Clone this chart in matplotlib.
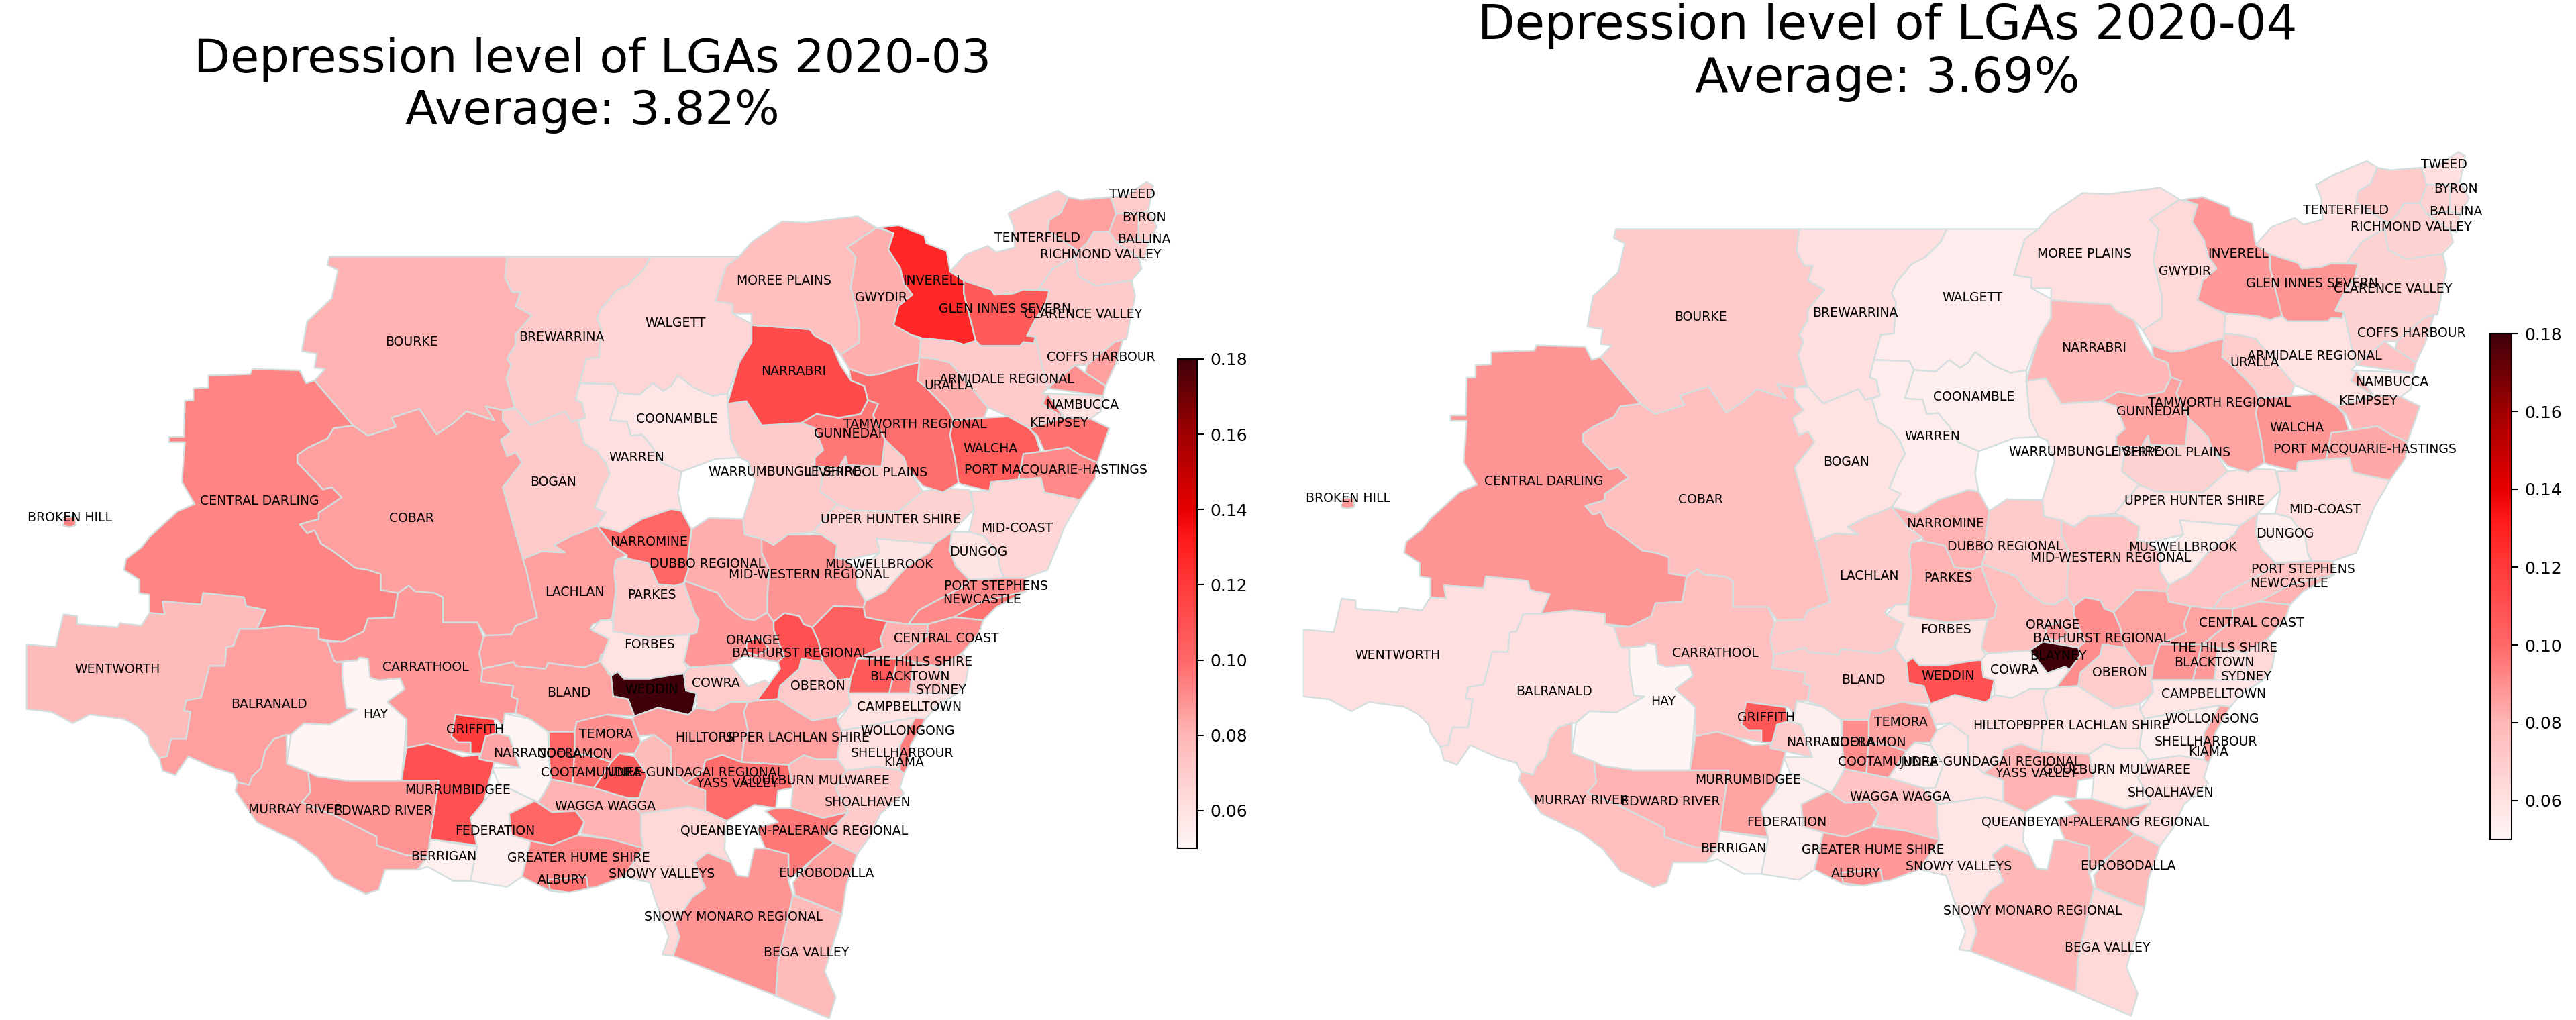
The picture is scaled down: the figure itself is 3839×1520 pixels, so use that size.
import numpy as np
import matplotlib
matplotlib.use('Agg')
import matplotlib.pyplot as plt
from matplotlib.collections import PatchCollection
from matplotlib.colors import LinearSegmentedColormap, Normalize
from matplotlib.patches import Polygon

# LGA names, same order as the value lists below
lga_names = [
    'BOURKE', 'BREWARRINA', 'WALGETT', 'COONAMBLE', 'WARREN', 'BOGAN', 'COBAR', 'CENTRAL DARLING',
    'BROKEN HILL', 'WENTWORTH', 'BALRANALD', 'HAY', 'CARRATHOOL', 'GRIFFITH', 'LACHLAN', 'BLAND',
    'FORBES', 'WEDDIN', 'PARKES', 'NARROMINE', 'DUBBO', 'CABONNE', 'ORANGE', 'BATHURST',
    'BLAYNEY', 'LITHGOW', 'MUSWELLBROOK', 'MID-WESTERN', 'WARRUMBUNGLE', 'UPPER HUNTER', 'GUNNEDAH', 'LIVERPOOL PLAINS',
    'NARRABRI', 'MOREE', 'GWYDIR', 'INVERELL', 'GLEN INNES', 'TENTERFIELD', 'KYOGLE', 'RICHMOND VALLEY',
    'TWEED', 'BYRON', 'LISMORE', 'BALLINA', 'CLARENCE', 'COFFS', 'BELLINGEN', 'ARMIDALE',
    'URALLA', 'TAMWORTH', 'WALCHA', 'KEMPSEY', 'NAMBUCCA', 'PORT MACQUARIE', 'MID-COAST', 'DUNGOG',
    'SINGLETON', 'PORT STEPHENS', 'NEWCASTLE', 'HAWKESBURY', 'CENTRAL COAST', 'BLUE MOUNTAINS', 'BLACKTOWN', 'HILLS',
    'SYDNEY', 'CAMPBELLTOWN', 'WOLLONGONG', 'WINGECARRIBEE', 'SHOALHAVEN', 'GOULBURN', 'UPPER LACHLAN', 'OBERON',
    'COWRA', 'HILLTOPS', 'YASS', 'QUEANBEYAN', 'EUROBODALLA', 'BEGA', 'SNOWY MONARO', 'SNOWY VALLEYS',
    'WAGGA', 'JUNEE', 'TEMORA', 'COOLAMON', 'COOTAMUNDRA', 'GUNDAGAI', 'NARRANDERA', 'JERILDERIE',
    'MURRUMBIDGEE', 'EDWARD RIVER', 'MURRAY RIVER', 'BERRIGAN', 'FEDERATION', 'LOCKHART', 'GREATER HUME', 'ALBURY',
]

depression_mar = [
    .081, .071, .066, .058, .061, .071, .086, .093,
    .093, .078, .086, .050, .088, .120, .086, .0855,
    .060, .180, .071, .101, .082, .088, .1035, .110,
    np.nan, .1035, .059, .089, .071, .067, .096, .071,
    .1125, .076, .082, .127, .106, .071, .086, .071,
    .070, .071, .082, .071, .071, .086, .090, .071,
    .082, .0985, .105, .0975, .060, .092, .066, .059,
    .090, .092, .0975, .081, .0905, .106, .096, .071,
    .0645, .060, .095, .061, .071, .078, .086, .071,
    .070, .086, .099, .096, .086, .078, .089, .0645,
    .081, .107, .0905, .101, .0975, .078, .085, .051,
    .110, .089, .0855, .053, .054, .101, .092, .0975,
]

depression_apr = [
    .071, .061, .055, .054, .055, .060, .076, .089,
    .088, .061, .061, .050, .076, .107, .071, .071,
    .059, .110, .081, .081, .071, .076, .088, .0905,
    .180, .0855, .056, .074, .060, .060, .0855, .067,
    .079, .061, .0645, .088, .089, .061, .071, .067,
    .061, .0645, .067, .0645, .067, .071, .074, .060,
    .070, .0855, .089, .079, .054, .084, .061, .054,
    .074, .074, .081, .0855, .082, .089, .088, .061,
    .0645, .058, .0855, .054, .061, .056, .060, .070,
    .054, .061, .081, .082, .078, .0645, .079, .058,
    .074, .055, .0855, .0905, .089, .058, .071, .054,
    .0855, .081, .076, .050, .054, .084, .088, .089,
]

# outlines in map units
lga_outlines = {
    'BOURKE': [(200.6,156.2),(308.7,156.2),(307.4,169.2),(311.8,177.8),(317,177.8),(313.9,186.4),(323.8,191.9),(313.9,203.6),(313.9,209.8),(308.7,218.4),(311.3,222.4),(308.2,230.2),(313.4,248.1),(306,249.7),(295.7,247.4),(300.9,256),(284,250.5),(276.1,257.5),(265.7,264.6),(255.3,248.9),(238.4,254.4),(241,259.9),(224,265.3),(214.9,259.1),(191.5,231.7),(198,224.7),(191.5,223.9),(192.8,215.3),(183.7,213.8),(187,195.8),(201.9,181.7),(205.8,164.5),(199.3,161.4)],
    'BREWARRINA': [(308.7,156.2),(396,156.2),(392,164),(383,173),(375,177),(366,188),(363.4,194),(366,199.7),(364.7,217.7),(357,218.4),(353,233.3),(350.4,243.5),(354.3,245),(356.4,254.4),(347.8,256.7),(343.9,250.5),(323,259),(314,249),(313.4,248.1),(308.2,230.2),(311.3,222.4),(308.7,218.4),(313.9,209.8),(313.9,203.6),(323.8,191.9),(313.9,186.4),(317,177.8),(311.8,177.8),(307.4,169.2)],
    'WALGETT': [(396,156.2),(450,156.2),(442,162),(435.6,183.3),(446,185),(446,191),(457.5,197.3),(457.5,208.3),(450,220.8),(443,239.5),(433.5,241),(423,236.4),(412.7,228.6),(408.5,235),(403.8,238),(397.3,233.3),(389.4,240.3),(376.4,239.2),(373.8,234),(353,233.3),(357,218.4),(364.7,217.7),(366,199.7),(363.4,194),(366,188),(375,177),(383,173),(392,164)],
    'COONAMBLE': [(376.4,239.2),(389.4,240.3),(397.3,233.3),(403.8,238),(408.5,235),(412.7,228.6),(423,236.4),(433.5,241),(443,239.5),(442.9,245.8),(445,267.7),(450.2,278.6),(435.6,279.4),(414.8,287.2),(402.5,281.7),(397.3,272.4),(390.8,264.6),(384.2,265.3),(381.6,256.7),(371.2,256)],
    'WARREN': [(353,233.3),(373.8,234),(376.4,239.2),(371.2,256),(381.6,256.7),(384.2,265.3),(390.8,264.6),(397.3,272.4),(402.5,281.7),(414.8,287.2),(412.7,300.5),(414.8,311),(408.5,310),(390.8,316),(377.7,324),(363.4,320),(368.6,312.2),(362,309),(367.3,295.8),(371.2,288.8),(368.6,281.8),(363.4,274.7),(355.6,270),(351.7,256),(356.4,254.4),(354.3,245),(350.4,243.5)],
    'BOGAN': [(314,249),(323,259),(343.9,250.5),(347.8,256.7),(351.7,256),(355.6,270),(363.4,274.7),(368.6,281.8),(371.2,288.8),(367.3,295.8),(362,309),(368.6,312.2),(363.4,320),(354.3,324),(347.8,326.3),(337.3,331.8),(343.9,336.4),(329.5,335.7),(324.3,338),(318.3,340.4),(306,296.6),(317.8,281.7),(314,275.5),(308.7,277.8),(304.8,267.7),(311.3,263),(306,256),(306,249.7)],
    'COBAR': [(214.9,259.1),(224,265.3),(241,259.9),(238.4,254.4),(255.3,248.9),(265.7,264.6),(276.1,257.5),(284,250.5),(300.9,256),(295.7,247.4),(306,249.7),(306,256),(311.3,263),(304.8,267.7),(308.7,277.8),(314,275.5),(317.8,281.7),(306,296.6),(318.3,340.4),(320.4,347),(327,376),(314,381),(311.3,386.3),(295.7,387),(290.5,379),(269.6,379),(269.6,363.6),(264.4,361),(252.7,360),(248.8,356.6),(242.3,361),(231.8,359.2),(231.8,349.6),(224,347),(216.2,345.8),(201.9,335),(195.4,331),(191.5,323),(187,324.7),(182.4,319.3),(187.6,317.7),(194,316),(194,312.2),(207.9,302.8),(201.9,296.6),(196.7,298),(181,281.7),(181,277),(187.6,272.4),(199.3,267),(203.2,260.6)],
    'CENTRAL DARLING': [(191.5,231.7),(186.3,233.3),(182.4,225.5),(153.7,224.7),(152.4,227.8),(126.9,228.6),(126.9,236),(117.7,236.4),(117.7,243.8),(112.5,243.8),(112,266),(102.9,266),(102.9,269.2),(112.5,269.2),(110.7,293.5),(118.5,306.8),(108,311.4),(91,327),(86,333.3),(76.8,340.4),(75.5,347),(84.7,353),(84.7,361),(91,362),(91,373.2),(100.3,374),(99,366.2),(122.4,368),(123.7,361),(148.5,363.6),(149.8,369),(161.5,371.4),(156.3,383),(174.5,381),(194,383),(194,389),(208.4,390.7),(221.4,384.5),(224,376.7),(239.7,376),(242.3,361),(231.8,359.2),(231.8,349.6),(224,347),(216.2,345.8),(201.9,335),(195.4,331),(191.5,323),(187,324.7),(182.4,319.3),(187.6,317.7),(194,316),(194,312.2),(207.9,302.8),(201.9,296.6),(196.7,298),(181,281.7),(181,277),(187.6,272.4),(199.3,267),(203.2,260.6),(214.9,259.1)],
    'BROKEN HILL': [(38.5,315),(46,314.5),(46,320),(42,321),(38.5,320)],
    'WENTWORTH': [(16.2,392.4),(33.9,393.8),(38.6,374),(46.9,375),(46.9,380),(71.6,382),(73,379.3),(86,381),(91,373.2),(100.3,374),(99,366.2),(122.4,368),(123.7,361),(148.5,363.6),(149.8,369),(161.5,371.4),(156.3,383),(145.9,383),(142,393.3),(138,394),(136.8,405.5),(127.6,405.5),(122.4,424.7),(113.3,426.4),(112,432.6),(116,433.4),(113.3,450),(104.2,450),(101.6,460.5),(96.9,461.4),(91.2,453.5),(89.9,448.3),(83.4,442),(75.5,437.8),(54.7,435),(44.3,440.4),(31.3,433.4),(16.2,431.7)],
    'BALRANALD': [(156.3,383),(174.5,381),(194,383),(194,389),(199.3,390.7),(203.2,402),(208.4,403),(208.4,413.4),(211,422),(211,431),(217.5,431.7),(208.4,437.8),(200.6,441.3),(185,440.4),(177,447.4),(174.5,447.4),(166.7,450),(161.5,457),(159,467.5),(153.7,472.7),(151.6,478),(144.6,476.2),(142,471),(130.3,467.5),(114.6,460.5),(106.8,472),(99,469.2),(96.9,461.4),(101.6,460.5),(104.2,450),(113.3,450),(116,433.4),(112,432.6),(113.3,426.4),(122.4,424.7),(127.6,405.5),(136.8,405.5),(138,394),(142,393.3),(145.9,383)],
    'HAY': [(204.5,403),(217.5,402),(218.8,400.3),(224,401),(225.3,412.5),(230.5,414.2),(243.6,413),(246.2,419.5),(235.7,427.3),(247.5,438),(246.2,456),(244.3,475.3),(211,475.3),(192.8,472.7),(174.5,465),(177,447.4),(185,440.4),(200.6,441.3),(217.5,431.7),(211,431),(208.4,413.4),(208.4,403)],
    'CARRATHOOL': [(199.3,390.7),(208.4,390.7),(221.4,384.5),(224,376.7),(239.7,376),(242.3,361),(248.8,356.6),(252.7,360),(264.4,361),(269.6,363.6),(269.6,379),(290.5,379),(294.4,388),(291.8,397.6),(293.8,407.2),(293,415),(312.6,417.7),(311.3,424),(315.2,425.6),(313.9,434.3),(307.4,434.3),(306,442.2),(302.2,438),(277.4,435),(274.8,448.3),(278.7,451.8),(286.5,451.8),(286.5,458.7),(271,456),(260.5,452.6),(247.5,455.3),(247.5,438),(235.7,427.3),(246.2,419.5),(243.6,413),(230.5,414.2),(225.3,412.5),(224,401),(218.8,400.3),(217.5,402),(204.5,403),(203.2,402)],
    'GRIFFITH': [(277.4,435),(300.9,438),(302.2,446.5),(295.7,448.3),(293,458.7),(286.5,458.7),(286.5,451.8),(278.7,451.8),(274.8,448.3)],
    'LACHLAN': [(318.3,340.4),(324.3,338),(329.5,335.7),(343.9,336.4),(337.3,331.8),(347.8,326.3),(354.3,324),(363.4,320),(372.5,331.8),(381.6,338),(375,341),(373.8,347),(375,359),(372.5,376.7),(360.8,380),(359.5,382.8),(371.2,389),(371.2,397.6),(366,398.5),(364.7,403),(355.6,406.4),(333.5,403.7),(332,407.2),(314,405.5),(312.6,403),(293.8,407.2),(291.8,397.6),(294.4,388),(295.7,387),(311.3,386.3),(314,381),(327,376),(320.4,347)],
    'BLAND': [(293.8,407.2),(312.6,403),(314,405.5),(332,407.2),(333.5,403.7),(355.6,406.4),(364.7,403),(366,398.5),(369.9,410),(372.5,411.6),(373.3,423.8),(382.4,425.6),(386.3,436),(369.4,435),(368.6,439.5),(359.5,438.7),(351,439.5),(349.8,445.6),(333.5,445.6),(323,438),(313.9,434.3),(315.2,425.6),(311.3,424),(312.6,417.7),(293,415)],
    'FORBES': [(365.5,377.6),(373.3,377.6),(373.3,384.5),(395.4,388),(420,386.3),(416.3,403),(418.9,407.2),(416.3,410.2),(395.4,413.3),(379.8,413.3),(375.9,409),(372,411.6),(365.5,402.9),(370.7,389),(360.2,383.7)],
    'WEDDIN': [(375.9,409),(379.8,413.3),(395.4,413.3),(411,410.7),(416.3,410.2),(417.6,420.3),(424,422),(421.5,433.4),(418.9,435.2),(400.6,430.8),(386.3,436),(382.4,425.6),(373.3,423.8),(372,411.6)],
    'PARKES': [(381.6,340),(394.6,342.7),(396.7,347),(400.6,355.7),(411,356.6),(416.3,355),(422.8,373.2),(425.4,377.6),(424,385.4),(420,386.3),(395.4,388),(373.3,384.5),(373.3,377.6),(375,359),(373.8,347),(375,341)],
    'NARROMINE': [(363.4,320),(372.5,331.8),(381.6,338),(381.6,340),(394.6,342.7),(396.7,347),(400.6,355.7),(411,356.6),(416.3,355),(419,347),(419,338),(421,322.4),(414.8,311),(408.5,310),(390.8,316),(377.7,324)],
    'DUBBO': [(421,322.4),(431.4,315.4),(452.3,316),(453.3,325.5),(463.7,327.9),(463.7,336.4),(468.3,347),(467,364.5),(467,373),(459.2,377.6),(452.7,376.7),(442.3,368.8),(437,361),(417.6,354),(416.3,355),(419,347),(419,338)],
    'CABONNE': [(417.6,354),(437,361),(442.3,368.8),(452.7,376.7),(459.2,377.6),(467,373),(471,378.4),(471,383.7),(477.5,399.4),(473.6,403),(452.7,399.4),(445,404.6),(420.4,406.4),(416.3,403),(420,386.3),(424,385.4),(425.4,377.6),(422.8,373.2),(416.3,355)],
    'ORANGE': [(455,390),(463,388),(468,395),(461,399),(454,397)],
    'BATHURST': [(471,378.4),(477.5,373.2),(486.6,375),(489.2,380),(494.4,382),(498.3,390.7),(501,403),(487.9,401),(486.6,407.2),(474.9,417.7),(473.6,425.6),(460.5,426.4),(468.4,416),(474.9,407.2),(473.6,403),(477.5,399.4),(471,383.7)],
    'BLAYNEY': [(445,404.6),(452.7,399.4),(473.6,403),(474.9,407.2),(468.4,416),(465.7,414.2),(455.3,418)],
    'LITHGOW': [(494.4,382),(507.4,368.8),(525.7,369.7),(527,375.8),(540,378.4),(536,389),(537.4,394),(521.8,401),(517.8,413.3),(510,414.2),(504.8,408),(501,403),(498.3,390.7)],
    'MUSWELLBROOK': [(533.5,327.8),(569,331),(565.8,336.4),(552,345),(538.7,360),(527,366),(521.8,357.5),(522,347),(535.6,336.4)],
    'MID-WESTERN': [(463.7,327.9),(471,331.7),(479.4,325.5),(500,325.5),(509.6,331.7),(508.5,339.6),(514.8,341),(522,347),(521.8,357.5),(527,366),(525.7,369.7),(507.4,368.8),(494.4,382),(489.2,380),(486.6,375),(477.5,373.2),(471,378.4),(467,373),(467,364.5),(468.3,347),(463.7,336.4)],
    'WARRUMBUNGLE': [(442.9,245.8),(454.3,244.2),(463.7,259),(487.7,257.5),(496,260.6),(501.2,274),(496,278.6),(496,284),(501.2,288),(499.2,299),(509.6,306.8),(495,324),(479.4,325.5),(471,331.7),(463.7,327.9),(453.3,325.5),(452.3,316),(459.6,292.7),(455.4,281),(450.2,278.6),(445,267.7)],
    'UPPER HUNTER': [(509.6,306.8),(519,310.7),(547,311.4),(561.7,299),(575,297.4),(589.8,298),(593,310),(579.4,324),(569,331),(533.5,327.8),(535.6,336.4),(514.8,341),(508.5,339.6),(509.6,331.7),(500,325.5),(495,324)],
    'GUNNEDAH': [(487.7,257.5),(497,252),(510.6,254.4),(524,252),(528.3,243.5),(534.6,245.8),(531.5,252.8),(538.8,267.7),(536.7,284),(515.8,283.3),(514.8,277.8),(510.6,285),(496,284),(496,278.6),(501.2,274),(496,260.6)],
    'LIVERPOOL PLAINS': [(538.8,267.7),(550.2,278.6),(552.3,284.9),(561.7,299),(547,311.4),(519,310.7),(509.6,306.8),(499.2,299),(501.2,288),(496,284),(510.6,285),(514.8,277.8),(515.8,283.3),(536.7,284)],
    'NARRABRI': [(457.5,198),(492.9,200.5),(496,204.4),(506.4,209.8),(511.7,222.3),(518,231.7),(526.2,234.9),(528.3,243.5),(524,252),(510.6,254.4),(497,252),(487.7,257.5),(463.7,259),(454.3,244.2),(442.9,245.8),(450,220.8),(457.5,208.3)],
    'MOREE': [(450,156.2),(457.5,147.3),(476.2,134.8),(490.8,135.6),(522,131.7),(533.5,138.7),(515.8,150.5),(521,156.7),(517.9,174.7),(523,195.8),(523,208.3),(511.7,216),(506.4,209.8),(496,204.4),(492.9,200.5),(457.5,198),(457.5,191),(446,191),(446,185),(435.6,183.3),(442,162)],
    'GWYDIR': [(533.5,138.7),(544,141.9),(540.8,152),(548,163),(550.2,172.3),(555.4,179.4),(547,186.4),(544,198),(554.4,203.6),(560.6,206.7),(559.6,220.8),(552.3,222.3),(535.6,227.8),(528.3,228.6),(516.9,224.7),(511.7,216),(523,208.3),(523,195.8),(517.9,174.7),(521,156.7),(515.8,150.5)],
    'INVERELL': [(535.6,138.7),(547,137.2),(562.7,143.4),(563.8,148),(576.3,152.8),(578.3,165.3),(586.7,170.8),(586.7,178.6),(594,207.5),(586.7,209.8),(579.4,207.5),(561.7,206),(554.4,203.6),(544,198),(547,186.4),(555.4,179.4),(550.2,172.3),(548,163),(540.8,152),(544,141.9)],
    'GLEN INNES': [(586.7,170.8),(603.4,176.2),(605.4,179.4),(616.9,178.6),(623,176.2),(638.8,176.7),(636.7,184.8),(630.4,194.2),(625.2,204.4),(630.4,204.4),(629.4,209),(623,208.3),(621,210.6),(597,210.6),(594,207.5),(589.8,191),(586.7,178.6)],
    'TENTERFIELD': [(578.3,165.3),(587.7,155),(601.3,149.7),(606.5,153.6),(617.9,150.5),(617,138),(613.8,130),(625,124),(644,116),(650.2,120),(646,129.4),(638.8,134),(637.7,140.3),(656.5,152.8),(654.4,156),(640.9,163.7),(632.5,175.5),(638.8,176.7),(623,176.2),(616.9,178.6),(605.4,179.4),(603.4,176.2),(586.7,170.8)],
    'KYOGLE': [(650.2,120),(657.5,121.5),(676.3,120),(679.4,130),(675.3,141),(665.9,141),(661.7,148),(656.5,152.8),(637.7,140.3),(638.8,134),(646,129.4)],
    'RICHMOND VALLEY': [(656.5,152.8),(661.7,148),(665.9,141),(675.3,141),(679.4,147.3),(693,156.7),(695,163.7),(688.8,170.8),(667,173.9),(656.5,168.4),(654.4,156)],
    'TWEED': [(676.3,120),(685.7,119),(698,110.6),(702,113),(699,128.6),(693,130),(679.4,130)],
    'BYRON': [(693,130),(699,128.6),(704.4,138),(699,147.3),(693,145.8)],
    'LISMORE': [(679.4,130),(693,130),(693,145.8),(679.4,147.3),(675.3,141)],
    'BALLINA': [(679.4,147.3),(693,145.8),(699,147.3),(697,158),(693,156.7)],
    'CLARENCE': [(632.5,175.5),(640.9,163.7),(654.4,156),(656.5,168.4),(667,173.9),(688.8,170.8),(691,180),(685.7,206.7),(683.6,206.7),(678.4,208.3),(661.7,222.3),(654.4,222.3),(637.7,236.4),(634.6,224),(630.4,205),(625.2,204.4),(630.4,194.2),(636.7,184.8),(638.8,176.7)],
    'COFFS': [(683.6,206.7),(679,222),(673,234.9),(660.7,227),(661.7,222.3),(678.4,208.3)],
    'BELLINGEN': [(654.4,222.3),(660.7,227),(673,234.9),(671.5,241),(637.7,236.4)],
    'ARMIDALE': [(560.6,206.7),(561.7,206),(579.4,207.5),(586.7,209.8),(594,207.5),(597,210.6),(621,210.6),(623,208.3),(629.4,209),(630.4,205),(634.6,224),(637.7,236.4),(634.6,239.5),(637.7,239.5),(648,254.4),(626.3,260.6),(613.8,253.6),(601.3,248),(578.3,220.8),(568,218.4),(559.6,217.7)],
    'URALLA': [(559.6,217.7),(568,218.4),(578.3,220.8),(601.3,248),(599.2,254.4),(580.4,256),(577.3,249.7),(562.7,234.9),(558.5,231.7)],
    'TAMWORTH': [(559.6,220.8),(558.5,231.7),(562.7,234.9),(577.3,249.7),(580.4,256),(578.3,264.6),(581.5,280),(583.5,294),(574,299.7),(561.7,295.8),(552.3,284.9),(550.2,278.6),(538.8,267.7),(531.5,252.8),(534.6,245.8),(528.3,243.5),(526.2,234.9),(518,231.7),(516.9,224.7),(528.3,228.6),(535.6,227.8),(552.3,222.3)],
    'WALCHA': [(580.4,256),(599.2,254.4),(613.8,253.6),(626.3,260.6),(630.4,265.3),(633.6,275.5),(623,276.3),(620,292),(603.3,293.5),(602.3,299),(585.6,295),(583.5,294),(581.5,280),(578.3,264.6)],
    'KEMPSEY': [(637.7,239.5),(648,254.4),(663.8,255),(675.3,260.6),(668,281.7),(657.5,277),(650.2,272.4),(635.7,274.7),(631.5,265.3),(626.3,260.6),(648,254.4),(634.6,245.8)],
    'NAMBUCCA': [(637.7,239.5),(671.5,241),(670,250.5),(663.8,255),(648,254.4)],
    'PORT MACQUARIE': [(623,276.3),(635.7,274.7),(650.2,272.4),(657.5,277),(668,281.7),(666.9,291),(657.5,304.4),(635.7,299.7),(633.6,291),(620,292)],
    'MID-COAST': [(590.8,299),(602.3,299),(603.3,293.5),(620,292),(633.6,291),(635.7,299.7),(657.5,304.4),(648,320.8),(642,336.4),(637.7,347),(624,352),(611.6,352),(609,347),(607.5,338),(599,326.3),(589.8,324),(593,310)],
    'DUNGOG': [(579.4,324),(589.8,324),(599,326.3),(607.5,338),(609,347),(611,352),(590,353),(582,345),(578,335)],
    'SINGLETON': [(552,345),(565.8,336.4),(569,331),(579.4,324),(578,335),(582,345),(590,353),(585.6,357.5),(559.5,371.4),(553,380),(540,378.4),(527,375.8),(525.7,369.7),(527,366),(538.7,360)],
    'PORT STEPHENS': [(590,353),(611.6,352),(624,352),(624.6,360),(598.6,366),(580.4,375.8),(564.7,380),(553,380),(559.5,371.4),(585.6,357.5)],
    'NEWCASTLE': [(580.4,375.8),(598.6,366),(624.6,360),(606.4,369.7),(598.6,377.6)],
    'HAWKESBURY': [(540,378.4),(553,380),(564.7,380),(564.7,387),(549,399.4),(546.5,401),(521.8,401),(537.4,394),(536,389)],
    'CENTRAL COAST': [(564.7,380),(580.4,375.8),(598.6,377.6),(596,385.4),(585.6,397.6),(572.5,406),(556,403),(546.5,401),(549,399.4),(564.7,387)],
    'BLUE MOUNTAINS': [(521.8,401),(546.5,401),(541.3,422),(516.5,422),(517.8,413.3)],
    'BLACKTOWN': [(546.5,401),(556,403),(554,422),(541.3,422)],
    'HILLS': [(556,403),(572.5,406),(574,422),(554,422)],
    'SYDNEY': [(572.5,406),(585.6,397.6),(590,403),(588,415),(583,422),(574,422)],
    'CAMPBELLTOWN': [(516.5,422),(541.3,422),(554,422),(574,422),(583,422),(570,430),(563.4,437.8),(557,437),(546.5,438.7),(512.6,444.8),(510,439.5),(517.8,429)],
    'WOLLONGONG': [(557,437),(563.4,437.8),(554.3,453.5),(553,465.7),(550.4,471),(547.8,469.2),(547.8,453.5)],
    'WINGECARRIBEE': [(512.6,444.8),(546.5,438.7),(557,437),(547.8,453.5),(547.8,469.2),(533.5,466.6),(515.2,469.2),(510,462.2),(510,458.7)],
    'SHOALHAVEN': [(515.2,469.2),(533.5,466.6),(547.8,469.2),(550.4,471),(547.8,479.7),(550.4,483),(536,495.4),(529.6,509.4),(521.8,520),(507.4,513),(502,509.4),(516.5,494.5),(508.7,479.7),(512.6,472.7)],
    'GOULBURN': [(480,465.7),(489.2,459.6),(497,462.2),(510,462.2),(515.2,469.2),(512.6,472.7),(508.7,479.7),(516.5,494.5),(501,498),(481.4,492),(482.7,479.7)],
    'UPPER LACHLAN': [(455.3,427.3),(460.5,426.4),(473.6,425.6),(494.4,438.7),(510,436),(510,439.5),(512.6,444.8),(510,458.7),(510,462.2),(497,462.2),(489.2,459.6),(480,465.7),(451.4,464),(452.7,452.6),(455.3,444.8),(452.7,433.4)],
    'OBERON': [(473.6,425.6),(474.9,417.7),(486.6,407.2),(487.9,401),(501,403),(504.8,408),(510,414.2),(517.8,413.3),(516.5,422),(517.8,429),(510,436),(494.4,438.7)],
    'COWRA': [(418.9,407.2),(420.4,406.4),(445,404.6),(455.3,418),(465.7,414.2),(468.4,416),(460.5,426.4),(455.3,427.3),(445,427.3),(434.5,432.6),(424,430.8),(424,422),(417.6,420.3),(416.3,410.2)],
    'HILLTOPS': [(386.3,436),(400.6,430.8),(418.9,435.2),(424,430.8),(434.5,432.6),(445,427.3),(455.3,427.3),(452.7,433.4),(455.3,444.8),(452.7,452.6),(451.4,464),(439.7,459.6),(429.3,463),(428,469.2),(417.6,477),(408.4,467.5),(408.4,455.3),(398,447.4),(389,448.3),(385,437.8)],
    'YASS': [(429.3,463),(439.7,459.6),(451.4,464),(480,465.7),(482.7,479.7),(473.6,481.4),(472.3,492),(459.2,490),(442.3,499.8),(429.3,493.7),(429.3,481.4),(417.6,477),(428,469.2)],
    'QUEANBEYAN': [(472.3,492),(481.4,492),(501,498),(516.5,494.5),(502,509.4),(507.4,513),(494.4,523.3),(480,536),(480,520),(465.7,516.4),(460.5,504),(473.6,500.6),(465.7,493.7)],
    'EUROBODALLA': [(507.4,513),(521.8,520),(515.2,539),(512.6,556.5),(484,545),(482.7,537.3),(494.4,523.3)],
    'BEGA': [(482.7,545),(512.6,556.5),(510,565.3),(502,591.4),(508.7,607),(504.8,620),(472.3,606.3),(473.6,586.2),(478.8,561.8)],
    'SNOWY MONARO': [(409.7,581.8),(413.6,570.5),(411,561.8),(421.5,546),(429.3,540.8),(422.8,525),(430.6,519),(445,525),(448.8,533),(455.3,533.8),(459.2,516.4),(465.7,516.4),(480,520),(480,536),(482.7,545),(478.8,561.8),(473.6,586.2),(472.3,606.3)],
    'SNOWY VALLEYS': [(390.2,495.4),(418.9,491),(429.3,493.7),(442.3,499.8),(441,517.2),(445,525),(430.6,519),(422.8,525),(429.3,540.8),(421.5,546),(411,561.8),(413.6,570.5),(409.7,581.8),(403.2,581),(407,570.5),(400.6,553),(395.4,537.3),(379.8,533.8),(391.5,516.4),(390.2,507.6)],
    'WAGGA': [(332.9,479.7),(335.5,474.5),(348.5,477),(361.5,479.7),(382.4,485.8),(390.2,495.4),(390.2,507.6),(391.5,516.4),(372,511),(353.7,507.6),(355.6,500.6),(350.4,493.7),(336,494.5),(327.7,488.4)],
    'JUNEE': [(361.5,479.7),(372,464),(377,458.7),(386.3,460.5),(394,471.8),(389,485.8),(382.4,485.8)],
    'TEMORA': [(351,439.5),(369.4,435),(385,437.8),(390.2,451.8),(386.3,458.7),(377,458.7),(372,464),(361.5,460.5),(349.8,458.7),(349.8,445.6)],
    'COOLAMON': [(334.2,445.6),(349.8,445.6),(349.8,458.7),(348.5,477),(335.5,474.5),(334,460)],
    'COOTAMUNDRA': [(349.8,458.7),(361.5,460.5),(372,464),(361.5,479.7),(348.5,477)],
    'GUNDAGAI': [(390.2,451.8),(398,447.4),(408.4,455.3),(408.4,467.5),(417.6,477),(429.3,481.4),(429.3,493.7),(418.9,491),(390.2,495.4),(382.4,485.8),(389,485.8),(394,471.8),(386.3,460.5),(386.3,458.7)],
    'NARRANDERA': [(295.7,448.3),(302.2,446.5),(310,448.3),(316.5,467.5),(291.8,462.2),(293,458.7)],
    'JERILDERIE': [(307.4,434.3),(323,438),(333.5,445.6),(334,460),(335.5,474.5),(332.9,479.7),(327.7,488.4),(303.5,477),(299.6,467.5),(316.5,467.5),(310,448.3),(302.2,446.5),(306,442.2)],
    'MURRUMBIDGEE': [(247.5,455.3),(260.5,452.6),(271,456),(281.3,460.5),(291.8,459.6),(291.8,462.2),(300.9,464),(294.4,488.4),(286.5,498),(290.5,514.6),(261.8,511),(267,475.3),(244.3,475.3)],
    'EDWARD RIVER': [(187.6,470),(192.8,472.7),(211,475.3),(267,475.3),(261.8,511),(260.5,521.6),(247.5,520.7),(229.2,514.6),(229.2,509.4),(203.2,496.3),(183.6,488.4),(188.9,482.3)],
    'MURRAY RIVER': [(174.5,447.4),(174.5,465),(187.6,470),(188.9,482.3),(183.6,488.4),(203.2,496.3),(229.2,509.4),(229.2,514.6),(247.5,520.7),(260.5,521.6),(254,529.5),(234.4,529.5),(230.5,541.7),(222.7,544.3),(203.2,534.7),(192.8,521.6),(179.7,512),(156.3,500.6),(143.3,481.4),(144.6,476.2),(151.6,478),(153.7,472.7),(159,467.5),(161.5,457),(166.7,450)],
    'BERRIGAN': [(261.8,511),(290.5,515.5),(286.5,536.4),(276,536.4),(260.5,527.7),(254,529.5),(260.5,521.6)],
    'FEDERATION': [(290.5,515.5),(286.5,498),(294.4,488.4),(303.5,477),(325.6,487.6),(310,495.4),(311.3,508.5),(323,512),(317.8,533.8),(308.7,540),(286.5,536.4)],
    'LOCKHART': [(325.6,487.6),(336,494.5),(350.4,493.7),(355.6,500.6),(351.7,508.5),(336,514.6),(323,512),(311.3,508.5),(310,495.4)],
    'GREATER HUME': [(323,512),(336,514.6),(351.7,508.5),(372,511),(391.5,516.4),(379.8,533.8),(362.8,540),(342,543.4),(334.8,542.5),(317.8,533.8)],
    'ALBURY': [(333.5,535.6),(357,534),(358,541),(346.5,543.4),(334.8,541.7)],
}

# text labels drawn on top of the map, in map units
label_names = [
    'BROKEN HILL', 'BOURKE', 'BREWARRINA', 'WALGETT', 'CENTRAL DARLING', 'COBAR', 'BOGAN', 'WARREN', 'COONAMBLE',
    'WENTWORTH', 'BALRANALD', 'HAY', 'CARRATHOOL', 'LACHLAN', 'PARKES', 'FORBES', 'BLAND', 'WEDDIN', 'GRIFFITH',
    'NARRANDERA', 'COOLAMON', 'TEMORA', 'COOTAMUNDRA-GUNDAGAI REGIONAL', 'JUNEE', 'MURRUMBIDGEE', 'MURRAY RIVER',
    'EDWARD RIVER', 'WAGGA WAGGA', 'FEDERATION', 'BERRIGAN', 'GREATER HUME SHIRE', 'ALBURY', 'SNOWY VALLEYS',
    'TWEED', 'BYRON', 'BALLINA', 'TENTERFIELD', 'RICHMOND VALLEY', 'MOREE PLAINS', 'INVERELL', 'GWYDIR',
    'GLEN INNES SEVERN', 'CLARENCE VALLEY', 'COFFS HARBOUR', 'NARRABRI', 'ARMIDALE REGIONAL', 'URALLA', 'NAMBUCCA',
    'KEMPSEY', 'TAMWORTH REGIONAL', 'GUNNEDAH', 'WALCHA', 'PORT MACQUARIE-HASTINGS', 'WARRUMBUNGLE SHIRE',
    'LIVERPOOL PLAINS', 'UPPER HUNTER SHIRE', 'MID-COAST', 'DUNGOG', 'NARROMINE', 'DUBBO REGIONAL', 'MUSWELLBROOK',
    'MID-WESTERN REGIONAL', 'PORT STEPHENS', 'NEWCASTLE', 'CENTRAL COAST', 'ORANGE', 'BATHURST REGIONAL',
    'THE HILLS SHIRE', 'BLACKTOWN', 'SYDNEY', 'COWRA', 'OBERON', 'CAMPBELLTOWN', 'WOLLONGONG', 'HILLTOPS',
    'UPPER LACHLAN SHIRE', 'SHELLHARBOUR', 'KIAMA', 'YASS VALLEY', 'GOULBURN MULWAREE', 'SHOALHAVEN',
    'QUEANBEYAN-PALERANG REGIONAL', 'EUROBODALLA', 'SNOWY MONARO REGIONAL', 'BEGA VALLEY',
]
label_x = [
    42.5, 250.6, 341.8, 411, 157.9, 250.6, 336.8, 387.4, 412,
    71.6, 163.9, 228.5, 259.2, 350, 396.7, 395.4, 346.5, 396.7, 289.2,
    327.2, 349.9, 368.9, 403.2, 379.8, 278.7, 180,
    233, 368.6, 301.4, 270, 352.2, 342.3, 403,
    689.4, 696.5, 696.5, 631.5, 670, 477.3, 568, 536.5,
    611.7, 659.2, 670.2, 482.9, 613, 577.7, 658.6,
    644.6, 556.9, 517.9, 602.7, 642.7, 477.9,
    528.3, 542.3, 619, 595.6, 395, 430.5, 535.2,
    492.6, 606.2, 598, 576, 458.5, 487.4,
    559.5, 554, 572.8, 435.8, 497.8, 553.5, 552.5, 428.8,
    484.5, 549, 550.4, 448.8, 496.5, 528.3,
    483.5, 503, 446.5, 491,
]
label_y = [
    315, 208, 205.5, 196.6, 305, 315.8, 293.5, 278.6, 255,
    407.6, 428.7, 434.8, 406.4, 360.6, 362, 392.4, 422, 419.8, 444.3,
    458.7, 458.9, 447.2, 470.3, 470.6, 481, 493,
    493.7, 490.9, 506, 521.6, 522.3, 536, 532,
    118.4, 132.6, 145.8, 145, 155, 171, 171, 181,
    188.3, 191.6, 217.7, 226.3, 231, 234.9, 246.6,
    257.7, 258.6, 264, 273.3, 285.8, 287.5,
    288, 316.3, 321.6, 336, 330, 343.5, 343.8,
    350, 357, 365, 388.6, 389.8, 397.6,
    403, 412, 420, 416.3, 417.7, 430.5, 445, 449,
    449, 458.4, 464.3, 477, 475.3, 488.4,
    505.7, 531.7, 558.4, 580,
]

cbar_ticks = [0.06, 0.08, 0.10, 0.12, 0.14, 0.16, 0.18]

assert len(lga_names) == len(depression_mar) == len(depression_apr)
assert len(label_names) == len(label_x) == len(label_y)

W, H = 3839, 1520
fig = plt.figure(figsize=(W / 100, H / 100), dpi=100, facecolor='white')

# colours
vmin, vmax = 0.05, 0.18
nodes = [(0.05, '#fff5f5'), (0.06, '#ffe1e1'), (0.08, '#ffb6b6'), (0.10, '#ff6868'),
         (0.12, '#ff3a3a'), (0.132, '#ff1a1a'), (0.14, '#e80000'), (0.16, '#a00000'), (0.18, '#40000a')]
cmap = LinearSegmentedColormap.from_list('dep', [((v - vmin) / (vmax - vmin), c) for v, c in nodes])
norm = Normalize(vmin, vmax)


def draw_map(ax, values, xlim, ylim, extra_labels=()):
    patches = []
    vals = []
    for name, val in zip(lga_names, values):
        if np.isnan(val):
            continue
        patches.append(Polygon(lga_outlines[name], closed=True))
        vals.append(val)
    coll = PatchCollection(patches, cmap=cmap, norm=norm, edgecolor='#d3dede', linewidth=1.7)
    coll.set_array(np.array(vals))
    ax.add_collection(coll)
    for n, x, y in list(zip(label_names, label_x, label_y)) + list(extra_labels):
        ax.text(x, y, n, ha='center', va='center', fontsize=13.6, color='black')
    ax.set_xlim(*xlim)
    ax.set_ylim(*ylim)
    ax.axis('off')


ax1 = fig.add_axes([0, 0, 1900 / W, 1])
draw_map(ax1, depression_mar, (0, 776.1), (621, 0))

ax2 = fig.add_axes([1902 / W, 0, 1795 / W, 1])
draw_map(ax2, depression_apr, (0, 711.2), (622.5, 21.1), [('BLAYNEY', 461.7, 408)])

# titles
fig.text(883 / W, 1 - 127 / H, 'Depression level of LGAs 2020-03\nAverage: 3.82%',
         ha='center', va='center', fontsize=50.6, color='black')
fig.text(2813 / W, 1 - 78 / H, 'Depression level of LGAs 2020-04\nAverage: 3.69%',
         ha='center', va='center', fontsize=52, color='black')

# colourbars
for x0, x1, y0, y1 in [(1755, 1784, 535, 1264), (3711, 3743, 497, 1251)]:
    cax = fig.add_axes([x0 / W, 1 - y1 / H, (x1 - x0) / W, (y1 - y0) / H])
    sm = plt.cm.ScalarMappable(cmap=cmap, norm=norm)
    cb = fig.colorbar(sm, cax=cax, ticks=cbar_ticks)
    cb.ax.set_yticklabels(['%.2f' % t for t in cbar_ticks])
    cb.ax.tick_params(labelsize=18, length=7, width=1.5, pad=7)
    cb.outline.set_linewidth(1.5)

fig.savefig('out.png', dpi=100, facecolor='white')
